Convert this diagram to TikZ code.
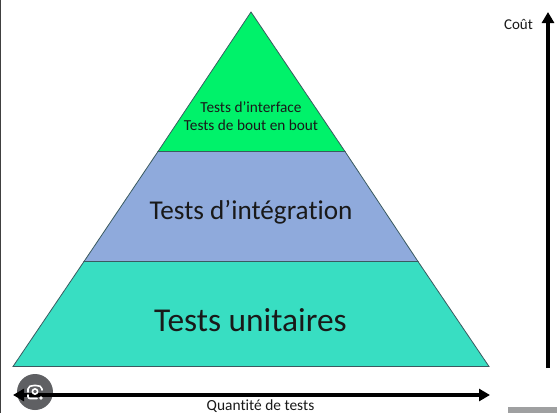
\documentclass[tikz,border=0pt]{standalone}
\usepackage{fontspec}
\setmainfont{Carlito}[Ligatures=NoCommon]
\usetikzlibrary{arrows.meta}
\definecolor{topgreen}{HTML}{00F26A}
\definecolor{midblue}{HTML}{8FAADC}
\definecolor{basegreen}{HTML}{38DEC2}
\definecolor{edgeline}{HTML}{3A5A60}
\definecolor{lensgray}{HTML}{5F6063}
\tikzset{
  layer/.style={draw=edgeline,line width=0.8pt,line join=miter},
  lbl/.style={inner sep=0pt,text=black!90,align=center},
  bigarrow/.style={line width=3.4pt,-{Triangle[length=11pt,width=12pt]}},
}
\begin{document}
\begin{tikzpicture}[x=1pt,y=-1pt]
\useasboundingbox (0,0) rectangle (557,413);
\fill[white] (0,0) rectangle (557,413);
\fill[black!75] (0,0) rectangle (1.2,413);
\coordinate (apex) at (251,12);
\coordinate (tl) at (158,151.5);
\coordinate (tr) at (345,151.5);
\coordinate (ml) at (84,261.5);
\coordinate (mr) at (418,261.5);
\coordinate (bl) at (13,366.5);
\coordinate (br) at (489,366.5);
\draw[layer,fill=basegreen] (ml) -- (mr) -- (br) -- (bl) -- cycle;
\draw[layer,fill=midblue] (tl) -- (tr) -- (mr) -- (ml) -- cycle;
\draw[layer,fill=topgreen] (apex) -- (tr) -- (tl) -- cycle;
\node[lbl,font=\fontsize{15.3}{18.5}\selectfont] (t1) at (251,116) {Tests d’interface\\Tests de bout en bout};
\node[lbl,font=\fontsize{27.2}{32}\selectfont] (t2) at (251,212) {Tests d’intégration};
\node[lbl,font=\fontsize{33.4}{38}\selectfont] (t3) at (250.5,320.5) {Tests unitaires};
\node[lbl,font=\fontsize{15}{18}\selectfont] (cout) at (518.5,24) {Coût};
\node[lbl,font=\fontsize{15.4}{18}\selectfont] (qty) at (260.5,406) {Quantité de tests};
\fill[lensgray] (35,392) circle (18);
\coordinate (hl) at (13,395);
\coordinate (hr) at (490,395);
\coordinate (vb) at (548,368);
\coordinate (vt) at (548,12);
\draw[bigarrow,{Triangle[length=11pt,width=12pt]}-{Triangle[length=11pt,width=12pt]}] (hl) -- (hr);
\draw[bigarrow] (vb) -- (vt);
\draw[white,line width=1.6pt,line cap=round,rounded corners=2pt] (28,392) -- (28,387) -- (32,385.5) -- (38,385.5) -- (42,387) -- (42,390);
\draw[white,line width=1.6pt,line cap=round,rounded corners=2pt] (28,395) -- (28,398.5) -- (37,398.5);
\draw[white,line width=1.6pt] (35,391.5) circle (2.6);
\fill[white] (41,398) circle (1.8);
\fill[lensgray!60!white] (508,407) rectangle (557,413);
\end{tikzpicture}
\end{document}
